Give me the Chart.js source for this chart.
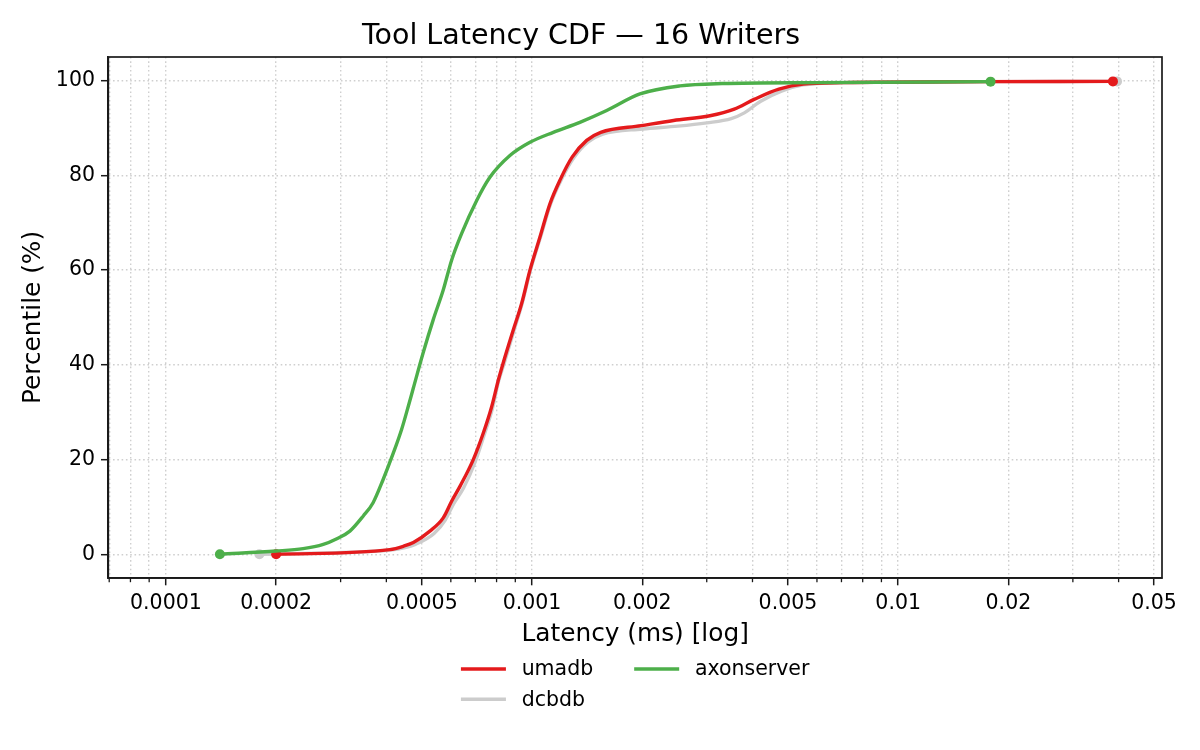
<!DOCTYPE html>
<html><head><meta charset="utf-8">
<script src="https://cdn.jsdelivr.net/npm/chart.js@4.4.1/dist/chart.umd.min.js"></script>
<style>html,body{margin:0;padding:0;background:#fff;}#wrap{width:1200px;height:750px;position:relative;}</style>
</head><body><div id="wrap"><canvas id="c"></canvas></div>
<script>
const FONT = "'DejaVu Sans', sans-serif";
const titleText = 'Tool Latency CDF — 16 Writers';
const xAxisTitle = 'Latency (ms) [log]';
const yAxisTitle = 'Percentile (%)';

const seriesNames = ['umadb', 'dcbdb', 'axonserver'];
const seriesColors = ['#e41a1c', '#cccccc', '#4daf4a'];
const seriesDrawOrder = [1, 2, 0];

const umadbX = [0.0002, 0.000409, 0.000445, 0.000474, 0.000526, 0.000572, 0.000603, 0.000636, 0.000691, 0.000736, 0.000776, 0.000809, 0.000834, 0.000889, 0.000937, 0.000987, 0.001051, 0.001119, 0.001192, 0.001288, 0.00141, 0.00154, 0.001986, 0.002435, 0.003061, 0.003567, 0.004054, 0.004722, 0.005503, 0.007094, 0.01727, 0.0386];
const umadbY = [0, 1.0, 1.7, 2.5, 4.9, 7.7, 11.2, 14.4, 20, 25.6, 31.2, 36.8, 40.4, 47.4, 53, 60, 67, 74, 79, 83.9, 87.4, 89.1, 90.5, 91.6, 92.6, 94, 96.1, 98.2, 99.3, 99.6, 99.8, 99.85];

const dcbdbX = [0.00018, 0.00041, 0.00045, 0.00048, 0.00054, 0.00058, 0.00061, 0.00065, 0.0007, 0.00074, 0.00078, 0.00081, 0.000838, 0.000893, 0.00094, 0.00099, 0.001055, 0.001124, 0.0012, 0.0013, 0.00142, 0.00156, 0.002, 0.0025, 0.003, 0.0035, 0.0038, 0.0042, 0.0048, 0.0055, 0.0071, 0.0173, 0.0396];
const dcbdbY = [0, 0.9, 1.4, 2.1, 4.4, 7.3, 10.6, 14.0, 19.6, 25.2, 30.9, 36.5, 40.2, 47.3, 53, 60, 67, 74, 79, 83.7, 87.0, 88.7, 89.8, 90.4, 91.1, 92.0, 93.2, 95.6, 97.8, 99.1, 99.6, 99.8, 99.85];

const axonX = [0.0001404, 0.0002, 0.000237, 0.000269, 0.000293, 0.000318, 0.000346, 0.000368, 0.000392, 0.000418, 0.00044, 0.000459, 0.000474, 0.000504, 0.000537, 0.000572, 0.000603, 0.000642, 0.000706, 0.000767, 0.00087, 0.000987, 0.001143, 0.001351, 0.001599, 0.001971, 0.002535, 0.003303, 0.006, 0.01788];
const axonY = [0, 0.7, 1.2, 2.1, 3.3, 4.9, 8.1, 10.9, 15.8, 21.4, 26.3, 31.2, 35.1, 42.5, 49.5, 55.8, 62.1, 67.7, 74.7, 79.6, 84.2, 87, 89.1, 91.2, 93.7, 97.2, 98.9, 99.4, 99.6, 99.8];

const majorTickValues = [0.0001, 0.0002, 0.0005, 0.001, 0.002, 0.005, 0.01, 0.02, 0.05];
const majorTickLabels = ['0.0001', '0.0002', '0.0005', '0.001', '0.002', '0.005', '0.01', '0.02', '0.05'];
const minorTickValues = [0.00007, 0.00008, 0.00009, 0.0003, 0.0004, 0.0006, 0.0007, 0.0008, 0.0009, 0.003, 0.004, 0.006, 0.007, 0.008, 0.009, 0.03, 0.04];
const yTickValues = [0, 20, 40, 60, 80, 100];
const xLimits = [0.0000696, 0.05255];
const yLimits = [-5, 105];

const xs = [umadbX, dcbdbX, axonX];
const ys = [umadbY, dcbdbY, axonY];

const datasets = seriesNames.map((name, i) => ({
  label: name,
  data: xs[i].map((x, j) => ({x: x, y: ys[i][j]})),
  borderColor: seriesColors[i],
  backgroundColor: seriesColors[i],
  borderWidth: 3.4,
  order: seriesDrawOrder[i],
  cubicInterpolationMode: 'monotone',
  pointRadius: ctx => (ctx.dataIndex === 0 || ctx.dataIndex === ctx.dataset.data.length - 1) ? 5 : 0,
  pointHoverRadius: 0,
  pointBorderWidth: 0,
  pointBackgroundColor: seriesColors[i],
  fill: false
}));

const AXIS_COLOR = '#1a1a1a';
const GRID_COLOR = '#cfcfcf';

const framePlugin = {
  id: 'frame',
  afterDraw(chart) {
    const {ctx, chartArea: a, scales} = chart;
    const xs_ = scales.x;
    ctx.save();
    ctx.strokeStyle = AXIS_COLOR;
    ctx.lineWidth = 1.3;
    minorTickValues.forEach(v => {
      const px = xs_.getPixelForValue(v);
      if (px < a.left - 0.5 || px > a.right + 0.5) return;
      ctx.beginPath();
      ctx.moveTo(px, a.bottom);
      ctx.lineTo(px, a.bottom + 4.2);
      ctx.stroke();
    });
    ctx.lineWidth = 1.7;
    ctx.strokeStyle = AXIS_COLOR;
    ctx.strokeRect(a.left, a.top, a.right - a.left, a.bottom - a.top);
    ctx.font = '20.5px ' + FONT;
    ctx.textBaseline = 'middle';
    ctx.textAlign = 'left';
    const handle = 45, gap = 15.7, colGap = 41, rowH = 30.3;
    const cols = [[0, 1], [2]];
    const colWidths = cols.map(c => handle + gap + Math.max(...c.map(i => ctx.measureText(seriesNames[i]).width)));
    const total = colWidths.reduce((s, w) => s + w, 0) + colGap * (cols.length - 1);
    let x0 = (a.left + a.right) / 2 - total / 2;
    const y0 = a.bottom + 91;
    cols.forEach((c, ci) => {
      c.forEach((i, ri) => {
        const y = y0 + ri * rowH;
        ctx.strokeStyle = seriesColors[i];
        ctx.lineWidth = 3.6;
        ctx.beginPath();
        ctx.moveTo(x0, y);
        ctx.lineTo(x0 + handle, y);
        ctx.stroke();
        ctx.fillStyle = '#000';
        ctx.fillText(seriesNames[i], x0 + handle + gap, y + 1);
      });
      x0 += colWidths[ci] + colGap;
    });
    ctx.restore();
  }
};

new Chart(document.getElementById('c'), {
  type: 'line',
  data: {datasets},
  plugins: [framePlugin],
  options: {
    responsive: true,
    maintainAspectRatio: false,
    animation: false,
    events: [],
    layout: {padding: {top: 0, left: 0, right: 38, bottom: 0}},
    plugins: {
      legend: {display: false},
      tooltip: {enabled: false},
      title: {
        display: true,
        text: titleText,
        color: '#000',
        font: {family: FONT, size: 28.5, weight: 'normal'},
        padding: {top: 19, bottom: 3.8}
      }
    },
    scales: {
      x: {
        type: 'logarithmic',
        min: xLimits[0],
        max: xLimits[1],
        afterBuildTicks: s => {
          s.ticks = majorTickValues.concat(minorTickValues).sort((a, b) => a - b).map(v => ({value: v}));
        },
        afterFit: s => { s.height = 172; s.paddingLeft = 0; s.paddingRight = 0; },
        ticks: {
          autoSkip: false, maxRotation: 0, minRotation: 0,
          color: '#000', padding: 6,
          font: {family: FONT, size: 20.5},
          callback: (v) => {
            const k = majorTickValues.indexOf(v);
            return k >= 0 ? majorTickLabels[k] : '';
          }
        },
        grid: {
          color: GRID_COLOR, lineWidth: 1.4, drawTicks: true, tickLength: 7.3,
          tickColor: ctx => (ctx.tick && majorTickValues.indexOf(ctx.tick.value) >= 0) ? AXIS_COLOR : 'rgba(0,0,0,0)',
          tickWidth: 1.5, tickBorderDash: []
        },
        border: {display: true, color: AXIS_COLOR, width: 1.7, dash: [1.6, 2.7]},
        title: {
          display: true, text: xAxisTitle, color: '#000',
          font: {family: FONT, size: 24.8}, padding: {top: 0, bottom: 101}
        }
      },
      y: {
        type: 'linear',
        min: yLimits[0],
        max: yLimits[1],
        afterBuildTicks: s => { s.ticks = yTickValues.map(v => ({value: v})); },
        afterFit: s => { s.width = 108.3; s.paddingTop = 0; s.paddingBottom = 0; },
        ticks: {color: '#000', padding: 6, font: {family: FONT, size: 20.5}},
        grid: {color: GRID_COLOR, lineWidth: 1.4, tickLength: 7.3, tickColor: AXIS_COLOR, tickWidth: 1.5, tickBorderDash: []},
        border: {display: true, color: AXIS_COLOR, width: 1.7, dash: [1.6, 2.7]},
        title: {
          display: true, text: yAxisTitle, color: '#000',
          font: {family: FONT, size: 24.8}, padding: {top: 18.5, bottom: 0}
        }
      }
    }
  }
});
</script></body></html>
